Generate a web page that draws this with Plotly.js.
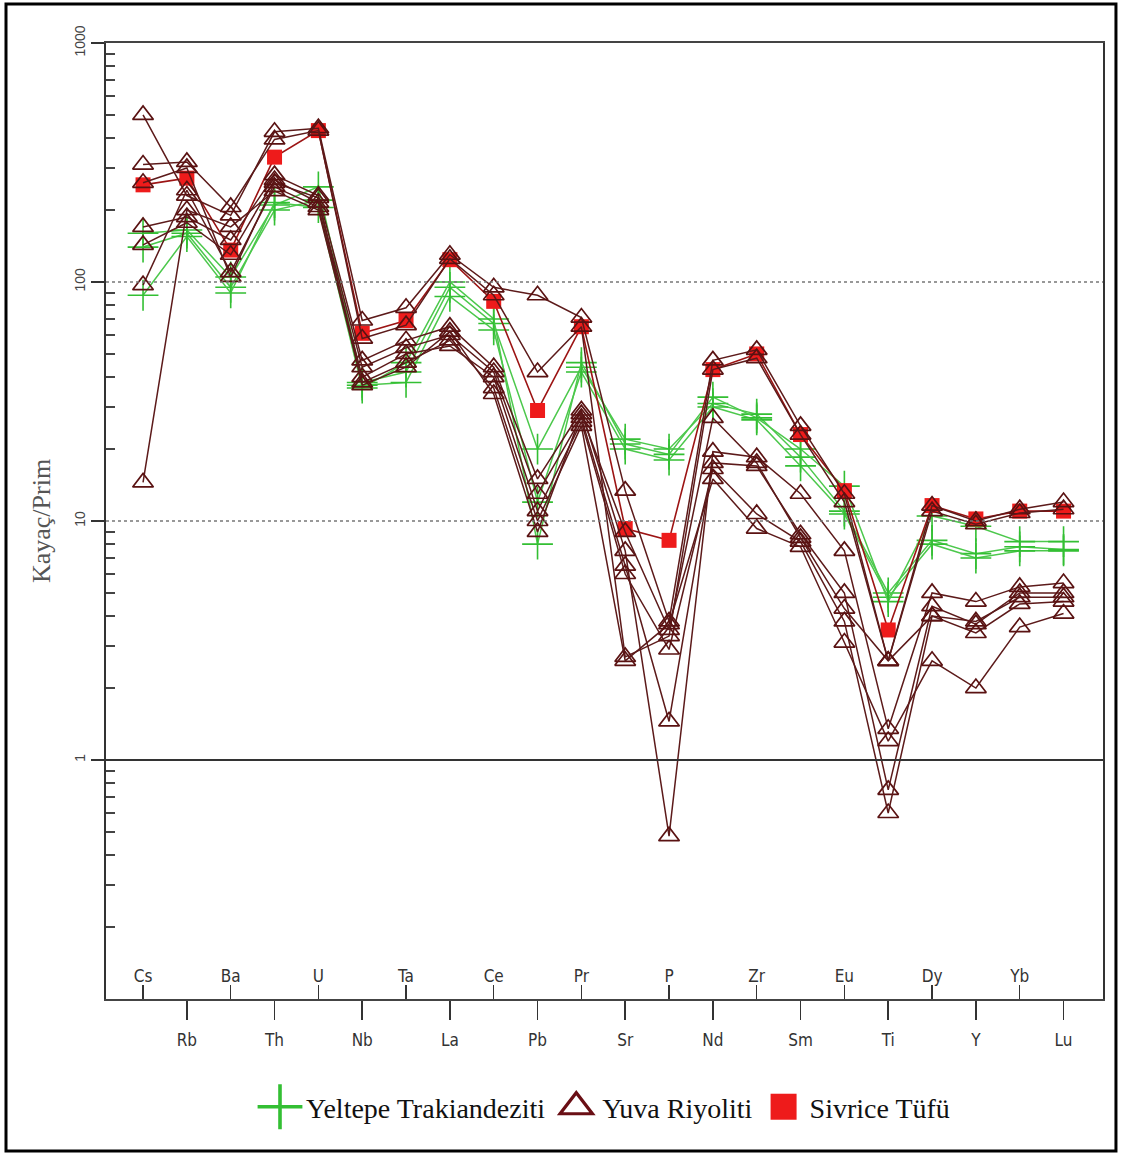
<!DOCTYPE html>
<html>
<head>
<meta charset="utf-8">
<script src="https://cdn.plot.ly/plotly-3.0.1.min.js"></script>
<style>
  html, body { margin: 0; padding: 0; background: #fff; }
  #chart { width: 1121px; height: 1155px; }
</style>
</head>
<body>
<div id="chart"></div>
<script>
// Elements (x categories)
const elements = ['Cs','Rb','Ba','Th','U','Nb','Ta','La','Ce','Pb','Pr','Sr','P','Nd','Zr','Sm','Eu','Ti','Dy','Y','Yb','Lu'];

// Y axis tick labels
const yTickVals = [0.1, 1, 10, 100, 1000];
const yTickText = ['0.1', '1', '10', '100', '1000'];

// Series names
const nameYeltepe = 'Yeltepe Trakiandeziti';
const nameYuva = 'Yuva Riyoliti';
const nameSivrice = 'Sivrice Tüfü';

// Yeltepe Trakiandeziti samples
const yeltepe1 = [160, 165, 105, 210, 250, 38, 42, 95, 67, 20, 44, 22, 20, 31, 28, 18.5, 11, 5.0, 8.3, 7.3, 7.8, 7.6];
const yeltepe2 = [140, 160, 95, 200, 220, 37, 38, 87, 63, 12, 42, 20, 18, 30, 26.5, 17, 10.7, 4.8, 8.0, 7.0, 7.5, 7.5];
const yeltepe3 = [88, 155, 90, 215, 205, 36, 46, 100, 70, 8, 46, 21, 19, 33, 27, 20, 14, 4.6, 10.5, 9.5, 8.2, 8.2];

// Sivrice Tüfü sample
const sivrice1 = [255, 272, 136, 333, 430, 61, 69, 124, 83, 29, 65, 9.3, 8.3, 43, 50, 23, 13.4, 3.5, 11.6, 10.2, 11, 11];

// Yuva Riyoliti samples
const yuva1 = [500, 230, 190, 425, 440, 69, 78, 130, 95, 88, 71, 13.4, 3.8, 47, 52, 25, 13, 2.6, 11.6, 10, 11.2, 12];
const yuva2 = [310, 318, 206, 395, 430, 58, 66, 125, 88, 42, 65, 2.7, 3.3, 43, 48, 23, 12, 2.6, 11, 9.7, 10.8, 11.2];
const yuva3 = [170, 187, 150, 280, 230, 47, 57, 65, 44, 15, 29, 7.5, 0.48, 19.5, 18.5, 13, 7.5, 1.35, 5, 4.6, 5.3, 5.5];
const yuva4 = [143, 177, 130, 267, 215, 44, 53, 60, 42, 13, 27, 6.5, 1.45, 17.5, 17, 8.8, 5, 0.75, 4.4, 3.7, 5, 5];
const yuva5 = [97, 242, 110, 250, 206, 40, 50, 54, 40, 11, 26, 6, 2.9, 16.5, 10.7, 8.2, 3.8, 0.6, 4.0, 3.4, 4.5, 4.6];
const yuva6 = [14.5, 200, 170, 240, 200, 38, 46, 57, 36, 10, 25, 2.6, 3.7, 15, 9.3, 7.8, 3.1, 1.2, 2.6, 2.0, 3.6, 4.1];
const yuva7 = [260, 300, 105, 260, 225, 37, 44, 62, 34, 9, 28, 9, 3.5, 27, 17.5, 8.5, 4.3, 2.6, 4.0, 3.8, 4.8, 4.8];

const yeltepeSamples = [yeltepe1, yeltepe2, yeltepe3];
const sivriceSamples = [sivrice1];
const yuvaSamples = [yuva1, yuva2, yuva3, yuva4, yuva5, yuva6, yuva7];

// Styles
const cGreen = '#33bf33', cGreenLine = '#4cc84c';
const cYuva = '#5a1212', cYuvaLine = '#5c1a1a';
const cRed = '#ee1b1b', cRedLine = '#9c1414';

const xIdx = elements.map((_, i) => i);
const traces = [];

yeltepeSamples.forEach(s => traces.push({
  type: 'scatter', mode: 'lines+markers', x: xIdx, y: s, name: nameYeltepe,
  showlegend: false, hoverinfo: 'skip',
  line: { color: cGreenLine, width: 1.5 },
  marker: { symbol: 'cross-thin-open', size: 22, color: cGreen, line: { color: cGreen, width: 1.6 } }
}));
sivriceSamples.forEach(s => traces.push({
  type: 'scatter', mode: 'lines+markers', x: xIdx, y: s, name: nameSivrice,
  showlegend: false, hoverinfo: 'skip',
  line: { color: cRedLine, width: 1.6 },
  marker: { symbol: 'square', size: 15, color: cRed, line: { width: 0 } }
}));
yuvaSamples.forEach(s => traces.push({
  type: 'scatter', mode: 'lines+markers', x: xIdx, y: s, name: nameYuva,
  showlegend: false, hoverinfo: 'skip',
  line: { color: cYuvaLine, width: 1.5 },
  marker: { symbol: 'triangle-up-open', size: 18, color: cYuva, line: { color: cYuva, width: 1.7 } }
}));

// Legend entries (markers only)
traces.push({ type: 'scatter', mode: 'markers', x: [null], y: [null], name: nameYeltepe, showlegend: true,
  marker: { symbol: 'cross-thin-open', size: 18, color: cGreen, line: { color: cGreen, width: 1.8 } } });
traces.push({ type: 'scatter', mode: 'markers', x: [null], y: [null], name: nameYuva, showlegend: true,
  marker: { symbol: 'triangle-up-open', size: 14, color: '#6a0f15', line: { color: '#6a0f15', width: 1.6 } } });
traces.push({ type: 'scatter', mode: 'markers', x: [null], y: [null], name: nameSivrice, showlegend: true,
  marker: { symbol: 'square', size: 13, color: cRed, line: { width: 0 } } });
// helper trace so the second (upper-label) x axis is drawn
traces.push({ type: 'scatter', mode: 'markers', x: [null], y: [null], xaxis: 'x2', yaxis: 'y',
  showlegend: false, hoverinfo: 'skip' });

const oddIdx = xIdx.filter(i => i % 2 === 1);
const evenIdx = xIdx.filter(i => i % 2 === 0);

// minor ticks at 2..9 of each decade
const minorVals = [];
[0.1, 1, 10, 100].forEach(d => { for (let k = 2; k <= 9; k++) minorVals.push(d * k); });

const xRange = [-0.845, 21.9];
const tickFont = { family: 'DejaVu Sans Condensed, Liberation Sans Narrow, Arial Narrow, sans-serif', size: 17, color: '#333' };

const layout = {
  width: 1121, height: 1155,
  margin: { l: 106, r: 18, t: 43, b: 156 },
  paper_bgcolor: '#fff', plot_bgcolor: '#fff',
  showlegend: true,
  legend: {
    orientation: 'h', x: 0.5, xanchor: 'center', y: -0.113, yanchor: 'middle',
    font: { family: 'Liberation Serif, Times New Roman, serif', size: 28, color: '#111' },
    itemwidth: 42, bgcolor: 'rgba(0,0,0,0)'
  },
  xaxis: {
    range: xRange, tickmode: 'array', tickvals: oddIdx, ticktext: oddIdx.map(i => elements[i]),
    ticks: 'outside', ticklen: 19, tickwidth: 1.5, tickcolor: '#333', ticklabelstandoff: 6,
    tickfont: tickFont, showline: true, linecolor: '#444', linewidth: 2, mirror: true,
    showgrid: false, zeroline: false, fixedrange: true
  },
  xaxis2: {
    overlaying: 'x', anchor: 'y', side: 'bottom', range: xRange,
    tickmode: 'array', tickvals: evenIdx, ticktext: evenIdx.map(i => elements[i]),
    ticks: 'inside', ticklen: 14, tickwidth: 1.5, tickcolor: '#333',
    ticklabelposition: 'inside', tickfont: tickFont,
    showline: false, showgrid: false, zeroline: false, fixedrange: true
  },
  yaxis: {
    type: 'log', range: [-1, 3], tickmode: 'array', tickvals: yTickVals, ticktext: yTickText,
    tickangle: -90, ticks: 'outside', ticklen: 13, tickwidth: 1.5, tickcolor: '#333',
    tickfont: { family: 'Liberation Sans, Arial, sans-serif', size: 14, color: '#444' },
    showline: true, linecolor: '#333', linewidth: 2, mirror: true,
    showgrid: false, zeroline: false, fixedrange: true,
    minor: { tickmode: 'array', tickvals: minorVals, ticks: 'inside', ticklen: 9, tickwidth: 1.5, tickcolor: '#444', showgrid: false },
    title: { text: 'Kayaç/Prim', font: { family: 'Liberation Serif, Times New Roman, serif', size: 26, color: '#555' }, standoff: 14 }
  },
  shapes: [
    { type: 'line', xref: 'paper', x0: 0, x1: 1, yref: 'y', y0: 1, y1: 1, line: { color: '#333', width: 2 } },
    { type: 'line', xref: 'paper', x0: 0, x1: 1, yref: 'y', y0: 10, y1: 10, line: { color: '#777', width: 1.5, dash: 'dot' } },
    { type: 'line', xref: 'paper', x0: 0, x1: 1, yref: 'y', y0: 100, y1: 100, line: { color: '#777', width: 1.5, dash: 'dot' } },
    { type: 'rect', xref: 'paper', yref: 'paper', x0: -0.1003, x1: 1.013, y0: -0.159, y1: 1.0408,
      line: { color: '#000', width: 3 }, fillcolor: 'rgba(0,0,0,0)', layer: 'above' }
  ]
};

Plotly.newPlot('chart', traces, layout, { staticPlot: true, displayModeBar: false }).then(gd => {
  gd.querySelectorAll('.legend .legendpoints path.scatterpts').forEach(p => {
    const t = p.getAttribute('transform') || '';
    p.setAttribute('transform', t + ' scale(2)');
  });
});
</script>
</body>
</html>
